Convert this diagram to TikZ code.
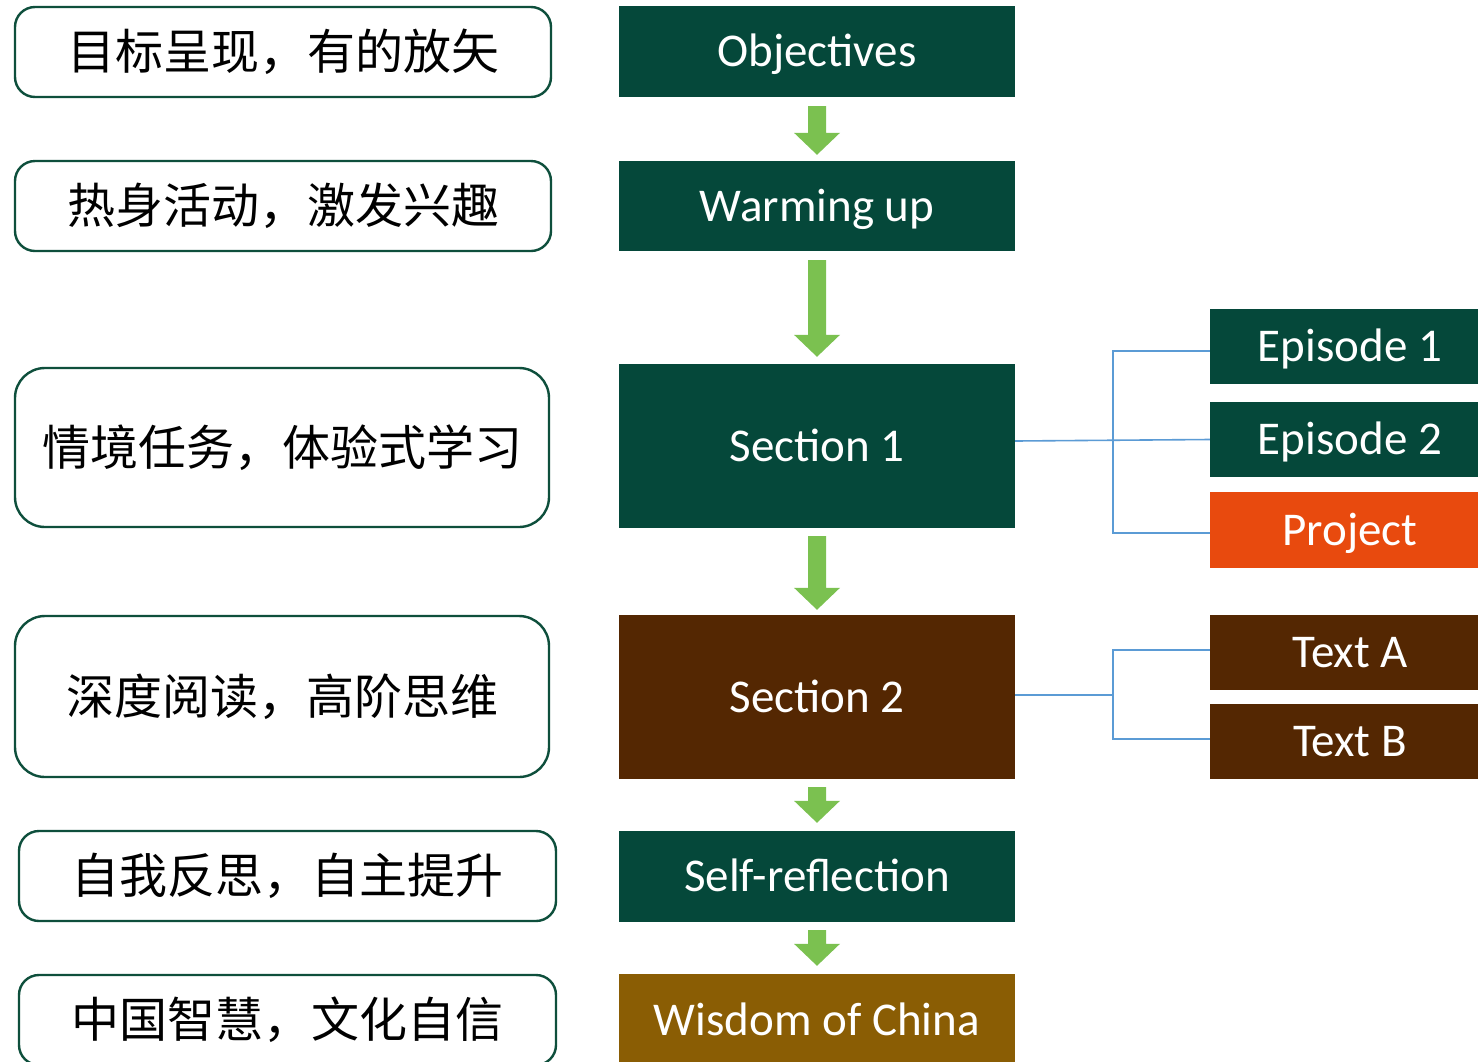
\documentclass[tikz,border=0pt]{standalone}
\usepackage{fontspec}
\setmainfont{Carlito}
\newfontfamily\cjk{Noto Sans CJK SC}
\usetikzlibrary{calc}
\definecolor{dkgreen}{HTML}{05483A}
\definecolor{dkbrown}{HTML}{542702}
\definecolor{ochre}{HTML}{8A5D04}
\definecolor{orng}{HTML}{E84A0E}
\definecolor{arrowgreen}{HTML}{7BC150}
\definecolor{linkblue}{HTML}{5B9BD5}
\definecolor{lborder}{HTML}{0E4F3C}
\tikzset{
  lbox/.style={draw=lborder, line width=2.4pt, fill=white, rounded corners=20pt, inner sep=0pt,
    font=\cjk\fontsize{48}{52}\selectfont, text=black},
  cbox/.style={fill=dkgreen, inner sep=0pt, minimum width=396pt, text=white,
    font=\fontsize{47}{50}\selectfont, text height=30pt, text depth=0pt},
  rbox/.style={fill=dkgreen, inner sep=0pt, minimum width=280pt, minimum height=75pt, text=white,
    font=\fontsize{47}{50}\selectfont, text height=30pt, text depth=0pt},
  link/.style={draw=linkblue, line width=1.6pt}
}
\newcommand\greenarrow[2]{%
 \fill[arrowgreen] let \p1=(#1), \p2=(#2) in
 (\x1-9pt,\y1) -- (\x1+9pt,\y1) -- (\x1+9pt,\y2+22pt) -- (\x1+23pt,\y2+22pt) -- (\x1,\y2)
 -- (\x1-23pt,\y2+22pt) -- (\x1-9pt,\y2+22pt) -- cycle;}
\begin{document}
\begin{tikzpicture}[x=1pt,y=-1pt]
\clip (0,0) rectangle (1478,1061);
\fill[white] (0,0) rectangle (1478,1061);
% left boxes
\node[lbox, minimum width=536pt, minimum height=90pt] (l1) at (283,52) {目标呈现，有的放矢};
\node[lbox, minimum width=536pt, minimum height=90pt] (l2) at (283,206) {热身活动，激发兴趣};
\node[lbox, rounded corners=30pt, minimum width=534pt, minimum height=159pt] (l3) at (282,447.5) {情境任务，体验式学习};
\node[lbox, rounded corners=30pt, minimum width=534pt, minimum height=161pt] (l4) at (282,696.5) {深度阅读，高阶思维};
\node[lbox, minimum width=537pt, minimum height=90pt] (l5) at (287.5,876) {自我反思，自主提升};
\node[lbox, minimum width=537pt, minimum height=90pt] (l6) at (287.5,1020) {中国智慧，文化自信};
% center column
\node[cbox, minimum height=91pt] (obj) at (817,51.5) {Objectives};
\node[cbox, minimum height=90pt] (warm) at (817,206) {Warming up};
\node[cbox, minimum height=164pt] (s1) at (817,446) {Section 1};
\node[cbox, fill=dkbrown, minimum height=164pt] (s2) at (817,697) {Section 2};
\node[cbox, minimum height=91pt] (sr) at (817,876.5) {Self-reflection};
\node[cbox, fill=ochre, minimum height=92pt] (wis) at (817,1020) {Wisdom of China};
% right column
\node[rbox] (ep1) at (1350,346.5) {Episode 1};
\node[rbox] (ep2) at (1350,439.5) {Episode 2};
\node[rbox, fill=orng, minimum height=76pt] (proj) at (1350,530) {Project};
\node[rbox, fill=dkbrown] (ta) at (1350,652.5) {Text A};
\node[rbox, fill=dkbrown] (tb) at (1350,741.5) {Text B};
% arrows
\coordinate (a1t) at ($(obj.south)+(0,9)$);  \coordinate (a1b) at ($(warm.north)+(0,-6)$);
\coordinate (a2t) at ($(warm.south)+(0,9)$); \coordinate (a2b) at ($(s1.north)+(0,-7)$);
\coordinate (a3t) at ($(s1.south)+(0,8)$);   \coordinate (a3b) at ($(s2.north)+(0,-5)$);
\coordinate (a4t) at ($(s2.south)+(0,8)$);   \coordinate (a4b) at ($(sr.north)+(0,-8)$);
\coordinate (a5t) at ($(sr.south)+(0,8)$);   \coordinate (a5b) at ($(wis.north)+(0,-8)$);
\greenarrow{a1t}{a1b}
\greenarrow{a2t}{a2b}
\greenarrow{a3t}{a3b}
\greenarrow{a4t}{a4b}
\greenarrow{a5t}{a5b}
% connectors
\coordinate (s1o) at ($(s1.east)+(0,-5)$);
\coordinate (j1) at ($(s1.east)+(98,-5)$);
\coordinate (e1i) at ($(ep1.west)+(0,4.5)$);
\coordinate (pri) at ($(proj.west)+(0,3)$);
\draw[link] (s1o) -- (ep2.west);
\draw[link] (e1i) -| (j1) |- (pri);
\coordinate (s2o) at ($(s2.east)+(0,-2)$);
\coordinate (j2) at ($(s2.east)+(98,-2)$);
\coordinate (tai) at ($(ta.west)+(0,-2.5)$);
\coordinate (tbi) at ($(tb.west)+(0,-2.5)$);
\draw[link] (s2o) -- (j2);
\draw[link] (tai) -| (j2) |- (tbi);
\end{tikzpicture}
\end{document}
